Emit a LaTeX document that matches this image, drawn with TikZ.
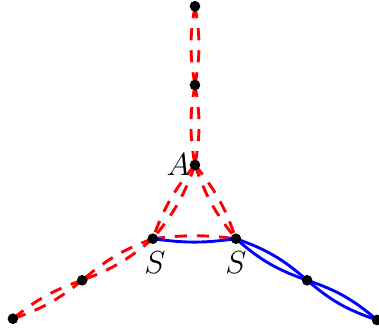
\documentclass[tikz,border=0pt]{standalone}
\usepackage{amsmath,amssymb}
\usepackage{xcolor}
\usepackage{tikz}
\usetikzlibrary{calc}
\definecolor{redleg}{HTML}{FF0000}
\definecolor{blueleg}{HTML}{0000FF}
\tikzset{
  redline/.style={redleg,line width=1.3pt,dash pattern=on 5.5pt off 4.5pt},
  blueline/.style={blueleg,line width=1.3pt},
  vdot/.style={fill=black},
  every node/.append style={font=\Large}
}

\begin{document}
\begin{tikzpicture}
  \useasboundingbox (-3.095,-2.667) rectangle (2.921,2.619);
  \coordinate (T) at (0,2.52);
  \coordinate (M) at (0,1.27);
  \coordinate (A) at (0,0);
  \coordinate (S1) at (-0.67,-1.17);
  \coordinate (S2) at (0.65,-1.17);
  \coordinate (L1) at (-1.79,-1.83);
  \coordinate (L2) at (-2.89,-2.44);
  \coordinate (R1) at (1.78,-1.83);
  \coordinate (R2) at (2.89,-2.46);
  \foreach \a/\b in {T/M,M/A,A/S1,A/S2,S1/L1,L1/L2}{
    \draw[redline] (\a) to[bend left=10] (\b);
    \draw[redline] (\a) to[bend right=10] (\b);
  }
  \draw[redline] (S1) to[bend left=7] (S2);
  \draw[blueline] (S1) to[bend right=8] (S2);
  \foreach \a/\b in {S2/R1,R1/R2}{
    \draw[blueline] (\a) to[bend left=11] (\b);
    \draw[blueline] (\a) to[bend right=11] (\b);
  }
  \foreach \p in {T,M,A,S1,S2,L1,L2,R1,R2}
    \fill[vdot] (\p) circle (2.4pt);
  \node[left,inner sep=2pt] (lA) at (A) {$A$};
  \node[below,inner sep=5.5pt,xshift=1pt] (lS1) at (S1) {$S$};
  \node[below,inner sep=5.5pt] (lS2) at (S2) {$S$};
\end{tikzpicture}
\end{document}
